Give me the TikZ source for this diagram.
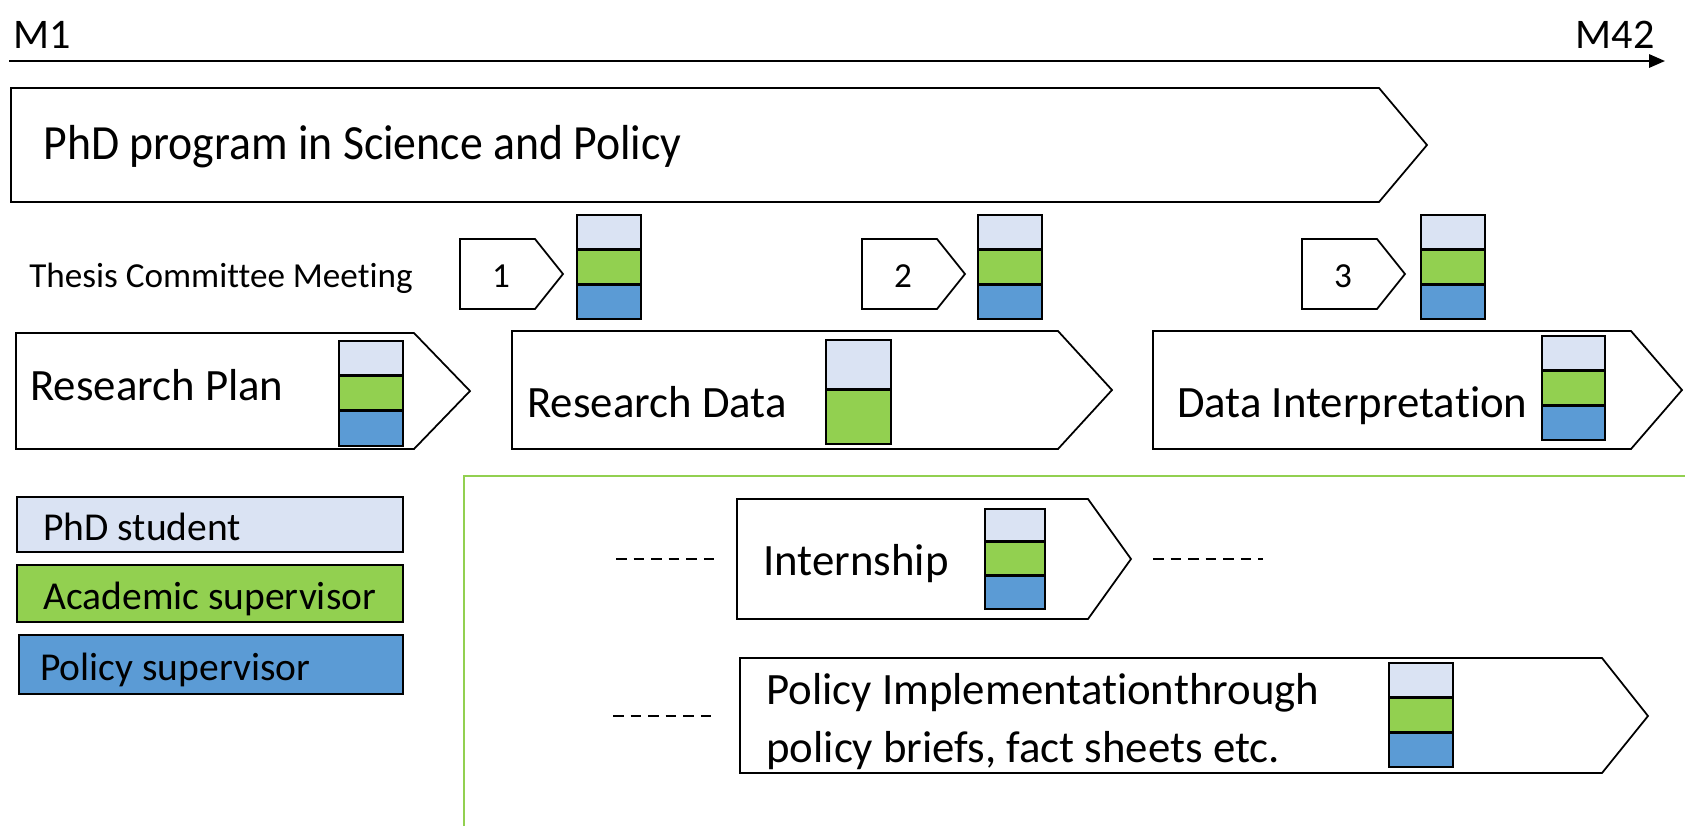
\documentclass[tikz,border=0pt]{standalone}
\usepackage{fontspec}
\setmainfont[Ligatures=NoCommon]{Carlito}
\newfontfamily\progfont[Ligatures=NoCommon,FakeStretch=0.93]{Carlito}
\usetikzlibrary{arrows.meta}
\definecolor{stucol}{HTML}{DAE3F3}
\definecolor{acacol}{HTML}{92D050}
\definecolor{polcol}{HTML}{5B9BD5}

\begin{document}
\begin{tikzpicture}[x=0.02cm,y=-0.02cm]
        \tikzset{
        wp shape/.style={draw,line width=1pt,line join=miter,fill=white},
        wp text/.style={anchor=base west,inner sep=0,font=\fontsize{25.5}{33}\selectfont},
        wp tile/.style={draw,line width=1.4pt},
        wp legend/.style={draw,line width=1.4pt},
        wp dash/.style={line width=0.8pt,dash pattern=on 6pt off 4pt}
        }
        \useasboundingbox (0,0) rectangle (1685,826);

        % timeline
        \coordinate (t0) at (9,61);
        \coordinate (t1) at (1665,61);
        \draw[line width=1.2pt,-{Triangle[length=9pt,width=7.5pt]}] (t0) -- (t1);
        \node[anchor=base west,inner sep=0,font=\fontsize{24}{28}\selectfont] (m1) at (13,48) {M1};
        \node[anchor=base east,inner sep=0,font=\fontsize{24}{28}\selectfont] (m42) at (1655,48) {M42};

        % programme
        \draw[wp shape] (11,88) -- (1379,88) -- (1427,145) -- (1379,202) -- (11,202) -- cycle;
        \node[wp text,font=\progfont\fontsize{28}{33}\selectfont] (prog) at (43,159) {PhD program in Science and Policy};

        % committee meetings
        \node[anchor=base west,inner sep=0,font=\fontsize{20}{24}\selectfont] (tcm) at (29,287) {Thesis Committee Meeting};
        \foreach \n/\x in {1/460,2/862,3/1302} {
            \draw[wp shape] (\x,239) -- (\x+75,239) -- (\x+103,274) -- (\x+75,309) -- (\x,309) -- cycle;
            \node[anchor=base,inner sep=0,font=\fontsize{20}{24}\selectfont] (meet\n) at (\x+41,287) {\n};
        }
        \foreach \x in {577,978,1421} {
            \draw[wp tile,fill=stucol] (\x,215) rectangle (\x+64,249);
            \draw[wp tile,fill=acacol] (\x,250) rectangle (\x+64,284);
            \draw[wp tile,fill=polcol] (\x,285) rectangle (\x+64,319);
        }

        % phases
        \draw[wp shape] (16,333) -- (414,333) -- (470,391) -- (414,449) -- (16,449) -- cycle;
        \node[wp text] (plan) at (30,400) {Research Plan};
        \draw[wp tile,fill=stucol] (339,341) rectangle (403,375);
        \draw[wp tile,fill=acacol] (339,376) rectangle (403,410);
        \draw[wp tile,fill=polcol] (339,411) rectangle (403,446);

        \draw[wp shape] (512,331) -- (1058,331) -- (1112,390) -- (1058,449) -- (512,449) -- cycle;
        \node[wp text] (data) at (527,417) {Research Data};
        \draw[wp tile,fill=stucol] (826,340) rectangle (891,389);
        \draw[wp tile,fill=acacol] (826,390) rectangle (891,444);

        \draw[wp shape] (1153,331) -- (1631,331) -- (1682,390) -- (1631,449) -- (1153,449) -- cycle;
        \node[wp text] (interp) at (1177,417) {Data Interpretation};
        \draw[wp tile,fill=stucol] (1542,336) rectangle (1605,370);
        \draw[wp tile,fill=acacol] (1542,371) rectangle (1605,405);
        \draw[wp tile,fill=polcol] (1542,406) rectangle (1605,440);

        % legend
        \node[wp legend,fill=stucol,anchor=north west,minimum width=7.72cm,minimum height=1.1cm] (lstu) at (16,496) {};
        \node[wp legend,fill=acacol,anchor=north west,minimum width=7.72cm,minimum height=1.14cm] (laca) at (16,564) {};
        \node[wp legend,fill=polcol,anchor=north west,minimum width=7.68cm,minimum height=1.18cm] (lpol) at (18,634) {};
        \node[anchor=base west,inner sep=0,font=\fontsize{22.5}{27}\selectfont] (tstu) at (43,540) {PhD student};
        \node[anchor=base west,inner sep=0,font=\fontsize{22.5}{27}\selectfont] (taca) at (43,609) {Academic supervisor};
        \node[anchor=base west,inner sep=0,font=\fontsize{22.5}{27}\selectfont] (tpol) at (40,680) {Policy supervisor};

        % policy part
        \draw[acacol,line width=0.9pt] (464,826) -- (464,476) -- (1685,476);

        \draw[wp shape] (737,499) -- (1088,499) -- (1131,559) -- (1088,619) -- (737,619) -- cycle;
        \node[wp text] (intern) at (763,575) {Internship};
        \draw[wp tile,fill=stucol] (985,509) rectangle (1045,541);
        \draw[wp tile,fill=acacol] (985,542) rectangle (1045,575);
        \draw[wp tile,fill=polcol] (985,576) rectangle (1045,609);

        \draw[wp shape] (740,658) -- (1602,658) -- (1648,716) -- (1602,773) -- (740,773) -- cycle;
        \node[wp text,align=left,anchor=base west] (impl) at (766,762) {Policy Implementationthrough\\policy briefs, fact sheets etc.};
        \draw[wp tile,fill=stucol] (1389,663) rectangle (1453,697);
        \draw[wp tile,fill=acacol] (1389,698) rectangle (1453,732);
        \draw[wp tile,fill=polcol] (1389,733) rectangle (1453,767);

        \coordinate (d1a) at (616,559);
        \coordinate (d1b) at (717,559);
        \coordinate (d2a) at (1153,559);
        \coordinate (d2b) at (1263,559);
        \coordinate (d3a) at (613,716);
        \coordinate (d3b) at (717,716);
        \draw[wp dash] (d1a) -- (d1b);
        \draw[wp dash] (d2a) -- (d2b);
        \draw[wp dash] (d3a) -- (d3b);
    \end{tikzpicture}
\end{document}
